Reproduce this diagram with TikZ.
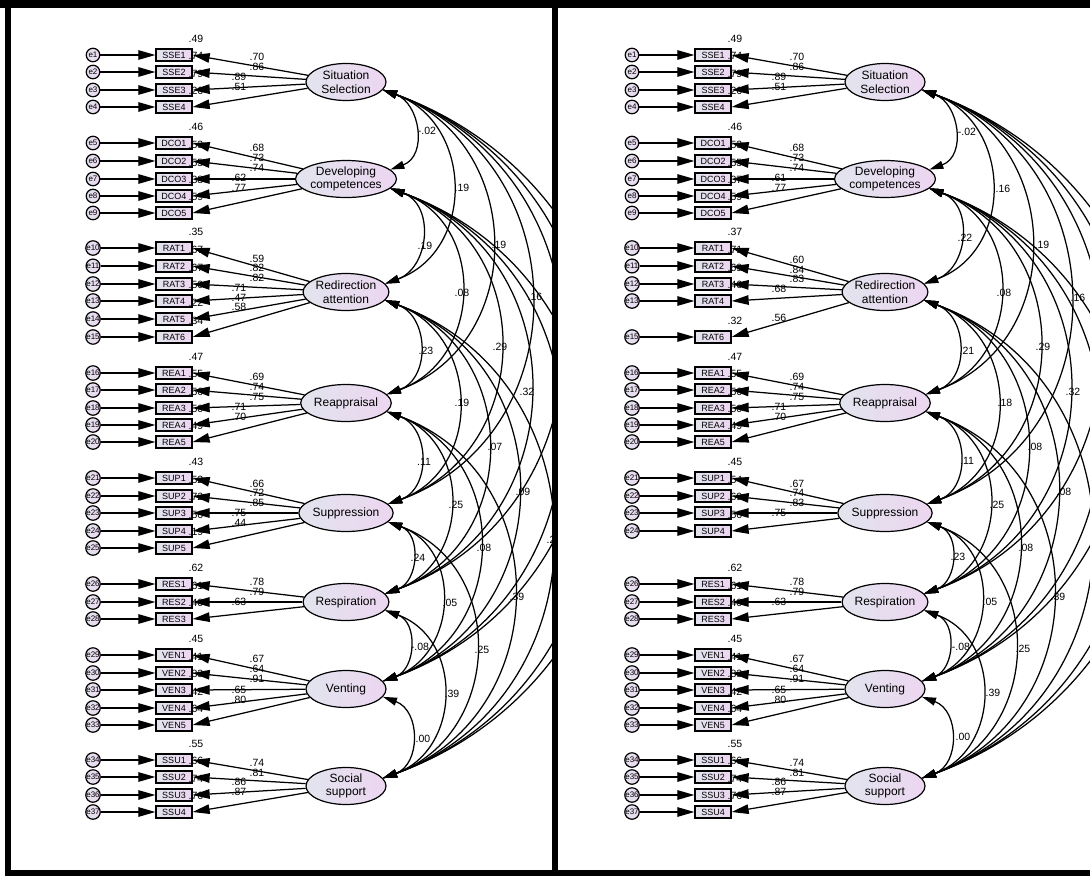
\documentclass[tikz,border=0pt]{standalone}
\usepackage{fontspec}
\setmainfont{Liberation Sans}
\usetikzlibrary{arrows.meta,shapes.geometric}
\definecolor{gL}{RGB}{226,228,238}
\definecolor{gR}{RGB}{236,214,240}
\tikzset{
 lat/.style={ellipse, draw, line width=1.2pt, minimum width=80pt, minimum height=37pt, inner sep=0pt,
   left color=gL, right color=gR, font=\fontsize{12}{13.5}\selectfont, align=center},
 ind/.style={rectangle, draw, line width=1.3pt, minimum width=36pt, minimum height=12pt, inner sep=0pt,
   left color=gL, right color=gR, font=\fontsize{9}{9}\selectfont},
 err/.style={circle, draw, line width=1.2pt, minimum size=13.5pt, inner sep=0pt,
   left color=gL, right color=gR, font=\fontsize{8}{8}\selectfont},
 arr/.style={line width=1.25pt, -{Triangle[length=17pt,width=9.5pt]}},
 cov/.style={line width=1.25pt, {Triangle[length=14pt,width=8pt]}-{Triangle[length=14pt,width=8pt]}},
 val/.style={font=\fontsize{10.5}{12}\selectfont, inner sep=0pt},
}
\newcommand\mylatents{%
 \node[lat] (\pfx L1) at (346,-82) {Situation\\Selection};
 \node[lat] (\pfx L2) at (346,-179) {Developing\\competences};
 \node[lat] (\pfx L3) at (346,-292) {Redirection\\attention};
 \node[lat] (\pfx L4) at (346,-403) {Reappraisal};
 \node[lat] (\pfx L5) at (346,-513) {Suppression};
 \node[lat] (\pfx L6) at (346,-602) {Respiration};
 \node[lat] (\pfx L7) at (346,-689) {Venting};
 \node[lat] (\pfx L8) at (346,-786) {Social\\support};
}
\newcommand\myrows[1]{%
 \foreach \nm/\yy/\ee/\rsq/\lat in {#1} {
   \node[err] (\pfx E\ee) at (93,-\yy) {\ee};
   \node[ind] (\pfx I\nm) at (174,-\yy) {\nm};
   \node[val] at (196,-\yy+16) {\rsq};
 }
 \foreach \nm/\yy/\ee/\rsq/\lat in {#1} {
   \draw[arr] (\pfx E\ee) -- (\pfx I\nm);
   \draw[arr] (\pfx L\lat) -- (\pfx I\nm.east);
 }
}
\newcommand\myvals[1]{\foreach \xx/\yy/\vv in {#1} {\node[val] at (\xx,-\yy) {\vv};}}
\newcommand\myarcs{%
 \foreach \i [evaluate=\i as \k using int(\i+1)] in {1,...,7} {
   \foreach \j in {\k,...,8} {
     \draw[cov] (\pfx L\i.-12) to[out=-20,in=20,looseness=1.27] (\pfx L\j.12);
   }
 }
}
\begin{document}
\begin{tikzpicture}[x=1pt,y=1pt]
\useasboundingbox (0,0) rectangle (1090,-876);
\fill[white] (0,0) rectangle (1090,-876);
% ---------------- left panel ----------------
\def\pfx{a}
\mylatents
\myrows{SSE1/55/e1/.49/1, SSE2/72/e2/.74/1, SSE3/90/e3/.79/1, SSE4/107/e4/.26/1,
 DCO1/143/e5/.46/2, DCO2/161/e6/.53/2, DCO3/179/e7/.55/2, DCO4/196/e8/.38/2, DCO5/213/e9/.59/2,
 RAT1/248/e10/.35/3, RAT2/266/e11/.67/3, RAT3/284/e12/.67/3, RAT4/301/e13/.50/3, RAT5/319/e14/.22/3, RAT6/337/e15/.34/3,
 REA1/373/e16/.47/4, REA2/390/e17/.55/4, REA3/408/e18/.56/4, REA4/425/e19/.50/4, REA5/442/e20/.49/4,
 SUP1/478/e21/.43/5, SUP2/496/e22/.52/5, SUP3/513/e23/.72/5, SUP4/531/e24/.56/5, SUP5/548/e25/.19/5,
 RES1/584/e26/.62/6, RES2/602/e27/.61/6, RES3/619/e28/.40/6,
 VEN1/655/e29/.45/7, VEN2/673/e30/.41/7, VEN3/690/e31/.83/7, VEN4/708/e32/.42/7, VEN5/725/e33/.64/7,
 SSU1/760/e34/.55/8, SSU2/777/e35/.66/8, SSU3/795/e36/.74/8, SSU4/812/e37/.76/8}
\myvals{257/57/.70, 257/67/.86, 239/77/.89, 239/87/.51,
 257/148/.68, 257/158/.73, 257/168/.74, 239/178/.62, 239/188/.77,
 257/259/.59, 257/268/.82, 257/278/.82, 239/288/.71, 239/298/.47, 239/307/.58,
 257/377/.69, 257/387/.74, 257/397/.75, 239/407/.71, 239/417/.70,
 257/484/.66, 257/493/.72, 257/503/.85, 239/513/.75, 239/523/.44,
 257/582/.78, 257/592/.79, 239/602/.63,
 257/659/.67, 257/669/.64, 257/679/.91, 239/690/.65, 239/700/.80,
 257/763/.74, 257/773/.81, 239/782/.86, 239/792/.87}
\begin{scope}
 \clip (12,0) rectangle (552,-876);
 \myarcs
 \myvals{427/131/-.02, 425/246/.19, 426/351/.23, 424/462/.11, 418/558/.24, 420/647/-.08, 423/739/.00,
  462/188/.19, 462/293/.08, 462/403/.19, 456/505/.25, 450/603/.05, 452/694/.39,
  499/245/.19, 500/347/.29, 495/447/.07, 484/548/.08, 482/650/.25,
  535/297/.16, 527/392/.32, 523/492/.09, 517/597/.39, 551/540/.2}
\end{scope}
% ---------------- right panel ----------------
\begin{scope}[xshift=539pt]
\def\pfx{b}
\mylatents
\myrows{SSE1/55/e1/.49/1, SSE2/72/e2/.74/1, SSE3/90/e3/.79/1, SSE4/107/e4/.26/1,
 DCO1/143/e5/.46/2, DCO2/161/e6/.53/2, DCO3/179/e7/.55/2, DCO4/196/e8/.37/2, DCO5/213/e9/.59/2,
 RAT1/248/e10/.37/3, RAT2/266/e11/.71/3, RAT3/284/e12/.69/3, RAT4/301/e13/.46/3, RAT6/337/e15/.32/3,
 REA1/373/e16/.47/4, REA2/390/e17/.55/4, REA3/408/e18/.56/4, REA4/425/e19/.50/4, REA5/442/e20/.49/4,
 SUP1/478/e21/.45/5, SUP2/496/e22/.54/5, SUP3/513/e23/.69/5, SUP4/531/e24/.56/5,
 RES1/584/e26/.62/6, RES2/602/e27/.61/6, RES3/619/e28/.40/6,
 VEN1/655/e29/.45/7, VEN2/673/e30/.41/7, VEN3/690/e31/.83/7, VEN4/708/e32/.42/7, VEN5/725/e33/.64/7,
 SSU1/760/e34/.55/8, SSU2/777/e35/.66/8, SSU3/795/e36/.74/8, SSU4/812/e37/.76/8}
\myvals{258/57/.70, 258/67/.86, 240/77/.89, 240/87/.51,
 258/148/.68, 258/158/.73, 258/168/.74, 240/178/.61, 240/188/.77,
 258/260/.60, 258/270/.84, 258/279/.83, 240/289/.68, 240/318/.56,
 258/377/.69, 258/387/.74, 258/397/.75, 240/407/.71, 240/417/.70,
 258/484/.67, 258/493/.74, 258/503/.83, 240/513/.75,
 258/582/.78, 258/592/.79, 240/602/.63,
 258/659/.67, 258/669/.64, 258/679/.91, 240/690/.65, 240/700/.80,
 258/763/.74, 258/773/.81, 240/782/.86, 240/792/.87}
\begin{scope}
 \clip (19,0) rectangle (551,-876);
 \myarcs
 \myvals{428/132/-.02, 426/238/.22, 428/351/.21, 428/461/.11, 419/557/.23, 422/647/-.08, 424/737/.00,
  464/189/.16, 465/293/.08, 466/403/.18, 458/505/.25, 451/602/.05, 454/693/.39,
  503/245/.19, 504/347/.29, 496/447/.08, 487/548/.08, 484/649/.25,
  539/298/.16, 534/392/.32, 525/492/.08, 519/597/.39}
\end{scope}
\end{scope}
% ---------------- frame ----------------
\fill[black] (0,0) rectangle (1090,-8);
\fill[black] (5,0) rectangle (11,-876);
\fill[black] (552,0) rectangle (558,-876);
\fill[black] (5,-870) rectangle (1090,-876);
\end{tikzpicture}
\end{document}
